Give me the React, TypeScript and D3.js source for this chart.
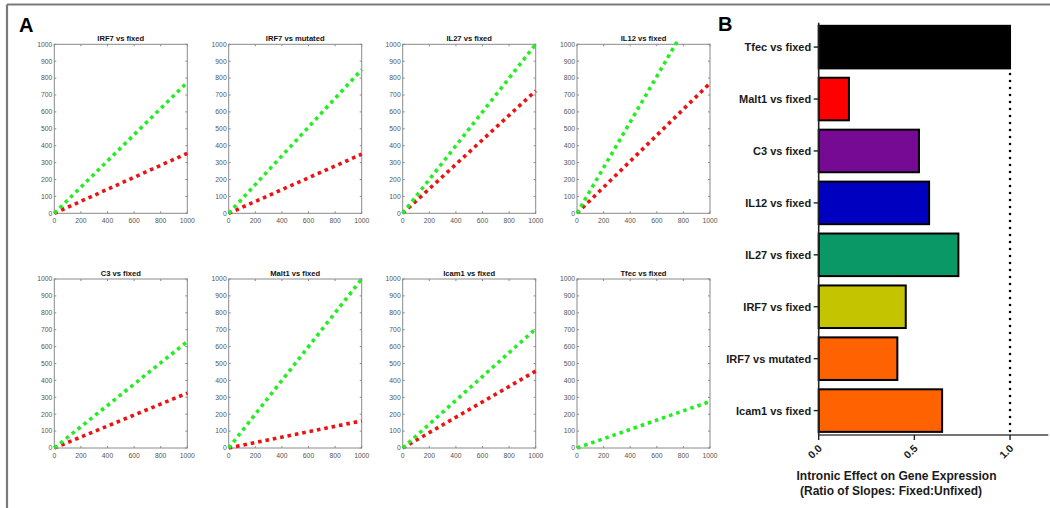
import React from "react";
import * as d3 from "d3";

// ---- Panel A data ----
const plotTitles = [
  "IRF7 vs fixed",
  "IRF7 vs mutated",
  "IL27 vs fixed",
  "IL12 vs fixed",
  "C3 vs fixed",
  "Malt1 vs fixed",
  "Icam1 vs fixed",
  "Tfec vs fixed",
];
// value of each fitted line at x = 1000
const unfixedAt1000 = [775, 850, 1000, 1350, 630, 1000, 705, 275];
// Tfec: fixed line coincides with (and is hidden under) the unfixed one
const fixedAt1000: (number | null)[] = [355, 350, 725, 770, 325, 160, 455, null];
const axisTicksY = [0, 100, 200, 300, 400, 500, 600, 700, 800, 900, 1000];
const axisTicksX = [0, 200, 400, 600, 800, 1000];

// ---- Panel B data ----
const barCategories = [
  "Tfec vs fixed",
  "Malt1 vs fixed",
  "C3 vs fixed",
  "IL12 vs fixed",
  "IL27 vs fixed",
  "IRF7 vs fixed",
  "IRF7 vs mutated",
  "Icam1 vs fixed",
];
const barValues = [1.0, 0.158, 0.524, 0.577, 0.73, 0.455, 0.411, 0.645];
const barColors = [
  "#000000",
  "#ff0000",
  "#770a94",
  "#0000c0",
  "#0a9966",
  "#c4c400",
  "#ff6200",
  "#ff6200",
];
const barTicks = [0, 0.5, 1.0];

const FONT = "'Liberation Sans', Arial, sans-serif";

function SubPlot({ idx, left, top }: { idx: number; left: number; top: number }) {
  const w = 133;
  const h = 169;
  const x = d3.scaleLinear().domain([0, 1000]).range([left, left + w]);
  const y = d3.scaleLinear().domain([0, 1000]).range([top + h, top]);
  const line = d3
    .line<[number, number]>()
    .x((d) => x(d[0]))
    .y((d) => y(d[1]));
  const clipId = `clip${idx}`;
  const redEnd = fixedAt1000[idx];
  const red: [number, number][] | null =
    redEnd == null
      ? null
      : [
          [0, 0],
          [1000, redEnd],
        ];
  const green: [number, number][] = [
    [0, 0],
    [1000, unfixedAt1000[idx]],
  ];
  const tickColor = "#8a8a8a";
  return (
    <g>
      <defs>
        <clipPath id={clipId}>
          <rect x={left - 3} y={top - 3} width={w + 6} height={h + 6} />
        </clipPath>
      </defs>
      <rect x={left} y={top} width={w} height={h} fill="#fff" stroke={tickColor} strokeWidth={1} />
      {axisTicksY.map((t) => (
        <g key={"y" + t}>
          <line x1={left} x2={left + 2} y1={y(t)} y2={y(t)} stroke={tickColor} />
          <line x1={left + w} x2={left + w - 2} y1={y(t)} y2={y(t)} stroke={tickColor} />
          <text
            x={left - 2}
            y={y(t) + 2.3}
            textAnchor="end"
            fontSize={6.8}
            fill="#555"
            fontFamily={FONT}
          >
            {t}
          </text>
        </g>
      ))}
      {axisTicksX.map((t) => (
        <g key={"x" + t}>
          <line x1={x(t)} x2={x(t)} y1={top + h} y2={top + h - 2} stroke={tickColor} />
          <line x1={x(t)} x2={x(t)} y1={top} y2={top + 2} stroke={tickColor} />
          <text
            x={x(t)}
            y={top + h + 9.5}
            textAnchor="middle"
            fontSize={6.8}
            fill="#555"
            fontFamily={FONT}
          >
            {t}
          </text>
        </g>
      ))}
      <g clipPath={`url(#${clipId})`}>
        {red && (
          <path d={line(red) || ""} stroke="#ee1111" strokeWidth={3.6} strokeDasharray="3.6 3.9" fill="none" />
        )}
        <path d={line(green) || ""} stroke="#22ee22" strokeWidth={3.6} strokeDasharray="3.6 3.9" fill="none" />
      </g>
      <text
        x={left + w / 2}
        y={top - 3.5}
        textAnchor="middle"
        fontSize={7.6}
        fontWeight="bold"
        fill="#111"
        fontFamily={FONT}
      >
        {plotTitles[idx]}
      </text>
    </g>
  );
}

function PanelB() {
  const x = d3.scaleLinear().domain([0, 1.2]).range([818.7, 1048.3]);
  const y = d3
    .scaleBand<string>()
    .domain(barCategories)
    .range([22.7, 435])
    .paddingInner(0.18)
    .paddingOuter(0.06);
  const axisY = 435;
  return (
    <g fontFamily={FONT}>
      {barCategories.map((c, i) => (
        <rect
          key={c}
          x={x(0)}
          y={y(c)!}
          width={x(barValues[i]) - x(0)}
          height={y.bandwidth()}
          fill={barColors[i]}
          stroke="#000"
          strokeWidth={2}
        />
      ))}
      <line
        x1={x(1)}
        x2={x(1)}
        y1={74}
        y2={axisY}
        stroke="#000"
        strokeWidth={2.6}
        strokeDasharray="0 7"
        strokeLinecap="round"
      />
      <line x1={x(0)} x2={x(0)} y1={22.7} y2={axisY} stroke="#222" strokeWidth={1.6} />
      <line x1={x(0)} x2={x(1.2)} y1={axisY} y2={axisY} stroke="#444" strokeWidth={1.6} />
      {barCategories.map((c) => (
        <g key={"t" + c}>
          <line
            x1={x(0) - 5}
            x2={x(0)}
            y1={y(c)! + y.bandwidth() / 2}
            y2={y(c)! + y.bandwidth() / 2}
            stroke="#222"
            strokeWidth={1.4}
          />
          <text
            x={x(0) - 7.5}
            y={y(c)! + y.bandwidth() / 2 + 4}
            textAnchor="end"
            fontSize={11}
            fontWeight="bold"
            fill="#1a1a1a"
          >
            {c}
          </text>
        </g>
      ))}
      {barTicks.map((t) => (
        <g key={"bx" + t}>
          <line x1={x(t)} x2={x(t)} y1={axisY} y2={axisY + 5} stroke="#222" strokeWidth={1.4} />
          <text
            transform={`translate(${x(t) + 4},${axisY + 14}) rotate(-45)`}
            textAnchor="end"
            fontSize={10.5}
            fontWeight="bold"
            fill="#1a1a1a"
          >
            {t.toFixed(1)}
          </text>
        </g>
      ))}
      <text x={896.5} y={480} textAnchor="middle" fontSize={12} fontWeight="bold" fill="#1a1a1a">
        Intronic Effect on Gene Expression
      </text>
      <text x={891} y={494.5} textAnchor="middle" fontSize={12} fontWeight="bold" fill="#1a1a1a">
        (Ratio of Slopes: Fixed:Unfixed)
      </text>
    </g>
  );
}

export default function App() {
  const colLefts = [54.3, 228.7, 402.7, 577];
  const rowTops = [44.3, 279];
  return (
    <svg
      width={1050}
      height={508}
      style={{ position: "absolute", left: 0, top: 0, background: "#fff" }}
    >
      <rect x={0} y={0} width={1050} height={508} fill="#fff" />
      <line x1={7} x2={1050} y1={4.5} y2={4.5} stroke="#7a7a7a" strokeWidth={2.2} />
      <line x1={7} x2={7} y1={4.5} y2={508} stroke="#7a7a7a" strokeWidth={2.2} />
      <text x={19} y={32} fontSize={20} fontWeight="bold" fontFamily={FONT} fill="#000">
        A
      </text>
      <text x={718} y={31} fontSize={20} fontWeight="bold" fontFamily={FONT} fill="#000">
        B
      </text>
      {plotTitles.map((_, i) => (
        <SubPlot key={i} idx={i} left={colLefts[i % 4]} top={rowTops[Math.floor(i / 4)]} />
      ))}
      <PanelB />
    </svg>
  );
}
